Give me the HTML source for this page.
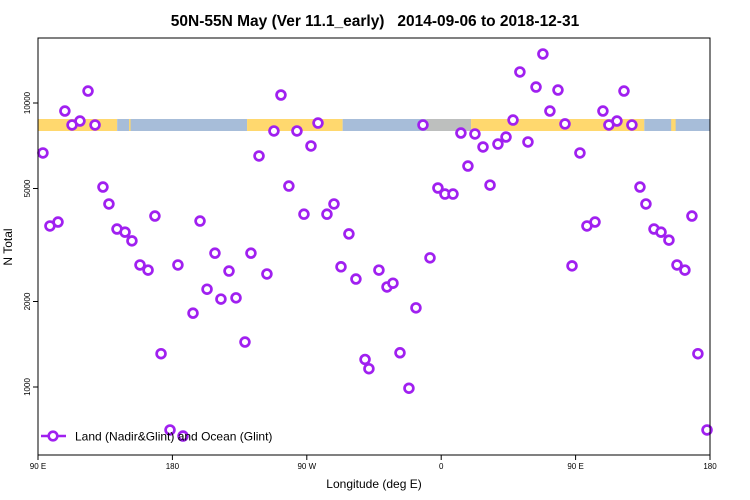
<!DOCTYPE html>
<html><head><meta charset="utf-8"><style>
body{margin:0;background:#fff;}
svg{display:block;font-family:"Liberation Sans",sans-serif;}
</style></head><body>
<svg id="chart" width="750" height="500" viewBox="0 0 750 500">
<text x="375" y="26" text-anchor="middle" font-size="15.5" font-weight="bold" style="white-space:pre">50N-55N May (Ver 11.1_early)   2014-09-06 to 2018-12-31</text>
<g id="band"></g>
<g id="pts"></g>
<rect x="38" y="38" width="672" height="417" fill="none" stroke="#000" stroke-width="1"/>
<g id="xaxis"></g>
<g id="yaxis"></g>
<text x="374" y="488" text-anchor="middle" font-size="12">Longitude (deg E)</text>
<text transform="translate(12,247) rotate(-90)" text-anchor="middle" font-size="12">N Total</text>
<g>
<line x1="41" y1="436" x2="66" y2="436" stroke="#A020F0" stroke-width="2.5"/>
<circle cx="53" cy="436" r="4.3" fill="#fff" stroke="#A020F0" stroke-width="2.6"/>
<text x="75" y="440.5" font-size="12">Land (Nadir&amp;Glint) and Ocean (Glint)</text>
</g>
</svg>
<script>
const lons=[93.3,98.0,103.4,108.0,112.8,118.1,123.5,128.2,133.5,137.5,142.9,148.3,152.9,158.3,163.7,168.3,172.4,178.4,183.7,187.1,193.8,198.5,203.2,208.5,212.5,217.9,222.6,228.6,232.6,238.0,243.3,248.0,252.7,258.0,263.4,268.1,272.8,277.5,283.5,288.2,292.9,298.2,302.9,309.0,311.6,318.3,323.7,327.7,332.4,338.4,343.1,347.8,352.5,357.8,362.5,367.9,373.2,377.9,382.6,388.0,392.7,398.0,403.4,408.1,412.7,418.1,423.5,428.1,432.8,438.2,442.9,447.6,452.9,457.6,463.0,468.3,472.3,477.7,482.4,487.7,493.1,497.1,502.5,507.2,512.5,517.9,523.2,527.9,531.9,538.0];
const nTotal=[6670,3690,3810,9370,8370,8640,11020,8370,5060,4410,3600,3510,3270,2690,2580,4000,1310,706,2690,672,1820,3840,2210,2960,2040,2560,2060,1440,2960,6510,2500,7970,10670,5100,7970,4060,7060,8500,4060,4410,2650,3460,2400,1250,1160,2580,2250,2320,1320,990,1900,8370,2850,5020,4780,4780,7840,6000,7780,7000,5140,7170,7590,8710,12860,7290,11380,14880,9370,11110,8440,2670,6670,3690,3810,9370,8370,8640,11020,8370,5060,4410,3600,3510,3290,2690,2580,4000,1310,706];
const xTickVals=[90,180,270,360,450,540];
const xTickLabels=["90 E","180","90 W","0","90 E","180"];
const yTickVals=[1000,2000,5000,10000];
const yTickLabels=["1000","2000","5000","10000"];
const bandSegs=[[90,143,"land"],[143,230,"ocean"],[151,152,"land"],[230,294,"land"],[294,350,"ocean"],[350,380,"mix"],[380,496,"land"],[496,540,"ocean"],[514,517,"land"]];
const X=v=>38+(v-90)*672/450;
const Y=v=>387-(Math.log10(v)-3)*284;
const NS="http://www.w3.org/2000/svg";
function mk(tag,attrs,parent){const e=document.createElementNS(NS,tag);for(const k in attrs)e.setAttribute(k,attrs[k]);parent.appendChild(e);return e;}
const band=document.getElementById('band');
const col={land:"#FFD86E",ocean:"#A7BDD9",mix:"#BDBFBE"};
bandSegs.forEach(s=>{const r=mk('rect',{x:X(s[0]),y:119,width:X(s[1])-X(s[0]),height:12,fill:col[s[2]]},band);

});
const pts=document.getElementById('pts');
lons.forEach((l,i)=>{const c=mk('circle',{cx:X(l),cy:Y(nTotal[i]),r:4.4,fill:"#fff",stroke:"#A020F0","stroke-width":2.7},pts);

});
const xa=document.getElementById('xaxis');
xTickVals.forEach((v,i)=>{mk('line',{x1:X(v),x2:X(v),y1:455,y2:460,stroke:"#000"},xa);
const t=mk('text',{x:X(v),y:469,"text-anchor":"middle","font-size":"8"},xa);t.textContent=xTickLabels[i];

});
const ya=document.getElementById('yaxis');
yTickVals.forEach((v,i)=>{mk('line',{x1:33,x2:38,y1:Y(v),y2:Y(v),stroke:"#000"},ya);
const t=mk('text',{transform:`translate(30,${Y(v)}) rotate(-90)`,"text-anchor":"middle","font-size":"8"},ya);t.textContent=yTickLabels[i];

});
</script>
</body></html>
